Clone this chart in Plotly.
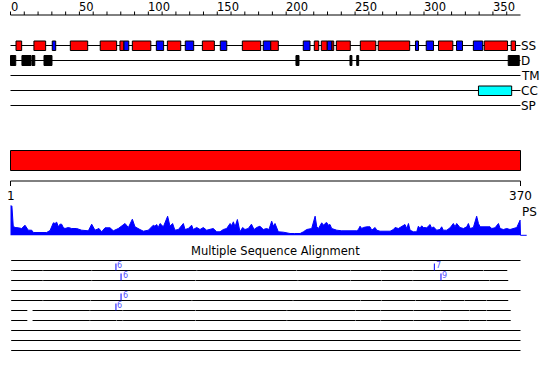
import plotly.graph_objects as go

# ---------------- data ----------------
seq_len = 370
axis_ticks_minor = list(range(0, 361, 10))
axis_tick_labels = [0, 50, 100, 150, 200, 250, 300, 350]

# secondary structure: start, end, type (H = helix red, E = strand blue)
ss_start = [4, 17, 30.3, 43.4, 65.1, 79.4, 82.3, 88.4, 105.8, 113.8, 126.8, 139.2, 152.2, 168.2, 183.4,
            188.8, 212.4, 220.4, 225.5, 229.8, 233.2, 236.4, 253.8, 266.8, 293.8, 301.6, 310.5, 323.6,
            335.8, 343.7, 363.2]
ss_end = [8.1, 25.5, 32.8, 56.0, 77.0, 82.3, 85.8, 101.8, 111.1, 123.5, 132.9, 147.9, 156.9, 181.5, 188.8,
          194.3, 217.3, 223.6, 229.8, 233.2, 234.5, 246.5, 265.0, 289.6, 296.0, 306.9, 320.9, 327.9,
          342.6, 360.6, 366.4]
ss_type = ['H', 'H', 'E', 'H', 'H', 'H', 'E', 'H', 'E', 'H', 'E', 'H', 'E', 'H', 'E',
           'H', 'E', 'H', 'H', 'E', 'H', 'H', 'H', 'H', 'E', 'E', 'H', 'E',
           'E', 'H', 'H']

# disorder regions
d_start = [0, 8.3, 15.6, 24.3, 207.1, 246.3, 251.2, 361.1]
d_end = [3.8, 14.9, 17.6, 30.1, 209.3, 247.7, 252.6, 369.1]

# coiled coil
cc_start = [339.5]
cc_end = [363.6]

track_names = ['SS', 'D', 'TM', 'CC', 'SP']

# PS profile (residue, score)
ps_res = [0, 1, 2, 3.3, 5.7, 6.9, 8.1, 10.5, 11.7, 12.9, 15.4, 16.6, 21.4, 26.2, 28.7, 31.1, 32.3, 33.5,
          34.7, 35.9, 37.1, 38.3, 39.5, 42, 44.4, 48, 51.6, 54, 56.5, 58.9, 61.3, 64.2, 66.1, 68.6,
          72.2, 74.6, 78.2, 83.1, 85.5, 88.4, 90.3, 93.9, 96.4, 100, 103.6, 104.8, 106, 107.2, 108.5,
          110.9, 112.6, 114, 115.7, 117.6, 119.3, 121.8, 125.4, 126.6, 129, 131.4, 132.6, 135.1, 137.5,
          139.9, 142.3, 144.7, 147.1, 149.6, 152, 154.4, 156.8, 159.3, 160.5, 161.7, 162.9, 164.6,
          165.5, 166.5, 168.4, 170.1, 172.5, 174.8, 176.7, 178.6, 181, 183.4, 185.8, 187.5, 189.5,
          190.7, 191.9, 193.1, 194.3, 198, 202.8, 206, 210.1, 212.5, 214.9, 218.5, 219.7, 221, 222.2,
          223.4, 225.8, 227, 228.2, 229.4, 230.6, 231.8, 233, 236.7, 240.3, 246.3, 251.2, 252.4, 253.6,
          254.8, 256, 258.4, 260.8, 262.1, 264.5, 265.7, 268.1, 271.7, 275.4, 277.8, 279, 281.4, 283.8,
          286.2, 287.5, 288.7, 289.9, 292.3, 294.7, 295.9, 297.1, 298.3, 299.5, 302, 304.4, 305.6,
          306.8, 309.2, 311.6, 312.8, 314, 316.5, 318.9, 320.1, 321.3, 322.5, 323.7, 326.1, 328.6, 331,
          332.2, 333.4, 335.8, 338.2, 339.5, 340.7, 343.1, 345.5, 347.9, 349.1, 351.5, 354, 355.2,
          357.6, 360, 362.4, 364.8, 367.3, 369.7, 370]
ps_val = [30, 29.7, 9.3, 8, 7.7, 7, 7, 10.3, 8, 5.3, 5.3, 3, 3, 3, 5, 12.7, 12, 13.3,
          8.7, 11.3, 11.3, 8, 7, 8, 7, 7, 5.3, 4.7, 4.7, 11.3, 5.3, 7, 3.7, 7.7,
          7.7, 4.7, 7, 12, 8, 16.3, 8.7, 6, 4.3, 5.3, 10.3, 9.3, 11, 8, 12,
          8.7, 15.3, 19.3, 9.3, 12, 5.3, 6, 12, 6, 7, 10.3, 6, 8, 6,
          8, 5.3, 6, 7, 3.7, 3.7, 6, 7, 12, 10, 13.7, 8.7, 16,
          8.7, 3.7, 8, 6, 7, 11.3, 6, 8, 9.3, 6, 7, 6, 14.3,
          9.3, 12, 7, 3.7, 3.3, 2, 2, 2, 3.7, 6, 7, 13.7, 19.3, 8.7,
          7, 12.7, 10.3, 12, 13, 10.3, 11, 7, 5.3, 4.7, 4.7, 4.7, 6, 9.3,
          7, 8, 8.7, 8.7, 5.3, 8, 5.3, 4.3, 4.3, 4.3, 6, 8, 7, 8.7,
          11, 7, 12, 5.3, 3.7, 3.7, 9.3, 7, 9.7, 8, 7.7, 11, 7,
          8.7, 5.3, 6, 8.7, 5.3, 5.3, 7.7, 10.3, 12, 8.7, 12, 8, 7, 8.7,
          12, 7, 8, 19.3, 12, 8.7, 8.7, 8, 8.7, 7, 7.7, 12, 7,
          6, 7, 6, 7, 8, 15.3, 0]

# multiple sequence alignment rows
msa_start = [1, 1, 1, 1, 1, 1, 1, 1, 1, 1]
msa_end = [370, 360.4, 361.1, 370, 361.1, 362.9, 362.9, 370, 370, 370]
msa_gaps = [
    [],
    [2.0, 23.8, 59.3, 135.5, 207.6, 246.8, 268.6, 292.2, 343.5],
    [23.8, 59.3, 134.4, 208.8, 246.8, 269.3, 292.2, 347.9],
    [],
    [23.8, 58.2, 131.9, 205.2, 254.3, 269.3, 294.0, 312.1, 329.7, 345.5],
    [57.9, 81.8, 134.6, 200.8, 250.4, 268.8, 292.8, 312.1, 333.4, 345.5],
    [57.9, 77.0, 81.8, 134.6, 200.8, 250.4, 268.8, 292.8, 312.1, 333.4, 345.5],
    [], [], [],
]
msa_big_gap = [None, None, None, None, None, (12.2, 16.5), (12.2, 16.5), None, None, None]
msa_marker_row = [1, 2, 4, 5, 1, 2]
msa_marker_pos = [76.5, 80.2, 80.2, 76.5, 307.5, 312.3]
msa_marker_label = ['6', '6', '6', '6', '7', '9']

# ---------------- layout helpers ----------------
k = 510 / 370.0
x_left = 10.5
xr = [-x_left / k, (550 - x_left) / k]
FONT = "DejaVu Sans"

shapes = []
annotations = []


def line(x0, x1, y0, y1, color='black', width=1):
    shapes.append(dict(type='line', xref='x', yref='y', x0=x0, x1=x1, y0=y0, y1=y1,
                       line=dict(color=color, width=width)))


def rect(x0, x1, y0, y1, fill, lw=1):
    shapes.append(dict(type='rect', xref='x', yref='y', x0=x0, x1=x1, y0=y0, y1=y1,
                       fillcolor=fill, line=dict(color='black', width=lw)))


def text(x, y, s, size=12, xanchor='left', yanchor='middle', color='black', xshift=0, xref='x'):
    annotations.append(dict(x=x, y=y, xref=xref, yref='y', text=s, showarrow=False,
                            xanchor=xanchor, yanchor=yanchor, xshift=xshift,
                            font=dict(family=FONT, size=size, color=color), borderpad=0))


# top ruler
line(0, seq_len, 15, 15)
for t in axis_ticks_minor:
    line(t, t, 11.5, 15)
for t in axis_tick_labels:
    text(t, 6.5, str(t), size=11.5, xanchor='left', xshift=-1)

# tracks
track_y = [45.5, 60.5, 75.5, 90.5, 105.5]
for name, ty in zip(track_names, track_y):
    line(0, seq_len, ty, ty)
    text(seq_len, ty, name, size=12, xanchor='left', xshift=-1)

for s, e, t in zip(ss_start, ss_end, ss_type):
    rect(s, e, 41, 50.5, '#FF0000' if t == 'H' else '#0000FF')
for s, e in zip(d_start, d_end):
    rect(s, e, 55.5, 65.5, '#000000')
for s, e in zip(cc_start, cc_end):
    rect(s, e, 86, 95.5, '#00FFFF')

# full-length bar and lower ruler
rect(0, seq_len, 150.5, 170.5, '#FF0000')
line(0, seq_len, 181, 181)
line(0, 0, 181, 186)
line(seq_len, seq_len, 181, 186)
text(0, 196, '1', size=12, xanchor='center')
text(seq_len, 196, str(seq_len), size=12, xanchor='center')
text(seq_len, 212, 'PS', size=12, xanchor='left', xshift=0)
line(seq_len, seq_len + 4.5, 235.3, 235.3, color='#0000FF', width=1)

# MSA
text(0.5, 250.5, 'Multiple Sequence Alignment', size=11.5, xanchor='center', xref='paper')
gap_half = 0.38
for i in range(len(msa_start)):
    y = 260.5 + 10 * i
    segs = []
    cur = msa_start[i]
    breaks = [(g - gap_half, g + gap_half) for g in msa_gaps[i]]
    if msa_big_gap[i]:
        breaks.append(msa_big_gap[i])
    breaks.sort()
    for b0, b1 in breaks:
        segs.append((cur, b0))
        cur = b1
    segs.append((cur, msa_end[i]))
    for a, b in segs:
        line(a - 0.5, b, y, y, width=1)

for r, p, lab in zip(msa_marker_row, msa_marker_pos, msa_marker_label):
    y = 260.5 + 10 * r
    line(p, p, y - 7, y, color='#0000FF', width=1)
    text(p, y - 5, lab, size=8, xanchor='left', color='#5555FF', xshift=0.5)

fig = go.Figure()
fig.add_trace(go.Scatter(x=ps_res, y=ps_val, mode='lines', fill='tozeroy',
                         line=dict(color='#0000FF', width=1), fillcolor='#0000FF',
                         xaxis='x', yaxis='y2', hoverinfo='skip', showlegend=False))

fig.update_layout(
    width=550, height=380, margin=dict(l=0, r=0, t=0, b=0),
    paper_bgcolor='white', plot_bgcolor='white', showlegend=False,
    xaxis=dict(range=xr, visible=False, fixedrange=True),
    yaxis=dict(range=[380, 0], visible=False, domain=[0, 1], fixedrange=True),
    yaxis2=dict(range=[0, 30], visible=False, domain=[(380 - 235.5) / 380, (380 - 205.5) / 380],
                anchor='x', fixedrange=True),
    shapes=shapes, annotations=annotations,
)
fig.write_html("out.html")
